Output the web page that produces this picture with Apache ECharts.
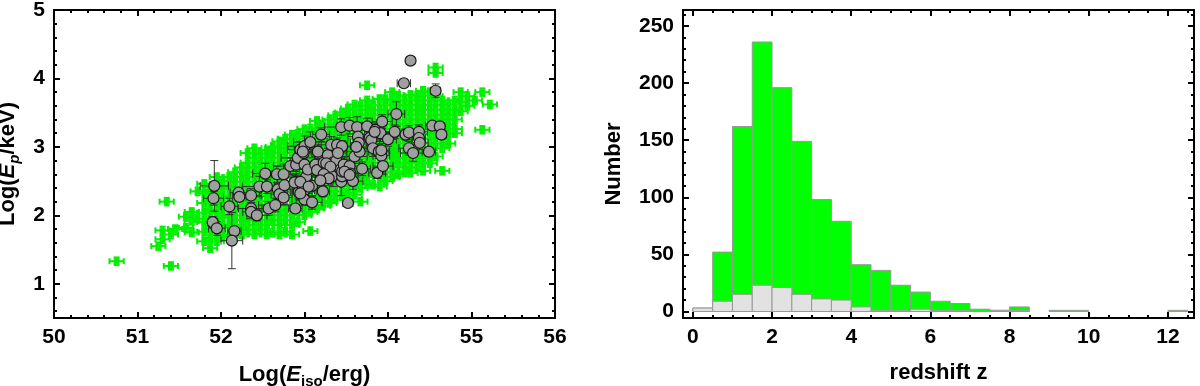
<!DOCTYPE html>
<html>
<head>
<meta charset="utf-8">
<script src="https://cdn.jsdelivr.net/npm/echarts@6/dist/echarts.min.js"></script>
<style>
html, body { margin: 0; padding: 0; background: #fff; }
#main { width: 1200px; height: 386px; }
</style>
</head>
<body>
<div id="main"></div>
<script>
// left panel: Ep - Eiso plane
// green sample, grouped by log Eiso column: [x, [log Ep ...]]
var greenCols = [
  [50.75, [1.33]],
  [51.25, [1.55]],
  [51.3, [1.65, 1.78]],
  [51.35, [2.2]],
  [51.4, [1.26, 1.72]],
  [51.45, [1.8]],
  [51.58, [1.82, 1.98]],
  [51.65, [1.75, 1.92, 2.05]],
  [51.72, [1.95, 2.35]],
  [51.80, [1.62, 1.76, 1.90, 2.04, 2.18, 2.32, 2.46]],
  [51.87, [1.52, 1.66, 1.80, 1.94, 2.08, 2.22, 2.36]],
  [51.95, [1.62, 1.76, 1.90, 2.04, 2.18, 2.32, 2.46, 2.56]],
  [52.02, [1.69, 1.83, 1.97, 2.11, 2.25, 2.39, 2.50]],
  [52.10, [1.72, 1.86, 2.00, 2.14, 2.28, 2.42, 2.56]],
  [52.17, [1.68, 1.79, 1.93, 2.07, 2.21, 2.35, 2.49, 2.63]],
  [52.25, [1.72, 1.86, 2.00, 2.14, 2.28, 2.42, 2.56, 2.70]],
  [52.32, [1.79, 1.93, 2.07, 2.21, 2.35, 2.49, 2.63, 2.77, 2.91]],
  [52.40, [1.72, 1.86, 2.00, 2.14, 2.28, 2.42, 2.56, 2.70, 2.84, 2.98]],
  [52.47, [1.79, 1.93, 2.07, 2.21, 2.35, 2.49, 2.63, 2.77, 2.90]],
  [52.55, [1.72, 1.86, 2.00, 2.14, 2.28, 2.42, 2.56, 2.70, 2.84, 2.95]],
  [52.62, [1.75, 1.93, 2.07, 2.21, 2.35, 2.49, 2.63, 2.77, 2.91, 3.00]],
  [52.70, [1.72, 1.86, 2.00, 2.14, 2.28, 2.42, 2.56, 2.70, 2.84, 2.98, 3.08]],
  [52.77, [1.76, 1.93, 2.07, 2.21, 2.35, 2.49, 2.63, 2.77, 2.91, 3.05, 3.12]],
  [52.85, [1.72, 1.86, 2.00, 2.14, 2.28, 2.42, 2.56, 2.70, 2.84, 2.98, 3.12, 3.18]],
  [52.92, [1.90, 2.07, 2.21, 2.35, 2.49, 2.63, 2.77, 2.91, 3.05, 3.19]],
  [53.00, [2.00, 2.14, 2.28, 2.42, 2.56, 2.70, 2.84, 2.98, 3.12, 3.26]],
  [53.07, [1.77, 2.05, 2.21, 2.35, 2.49, 2.63, 2.77, 2.91, 3.05, 3.19, 3.27]],
  [53.15, [2.10, 2.28, 2.42, 2.56, 2.70, 2.84, 2.98, 3.12, 3.26, 3.38]],
  [53.22, [2.14, 2.21, 2.35, 2.49, 2.63, 2.77, 2.91, 3.05, 3.19, 3.33]],
  [53.30, [2.18, 2.28, 2.42, 2.56, 2.70, 2.84, 2.98, 3.12, 3.26, 3.40]],
  [53.37, [2.23, 2.35, 2.49, 2.63, 2.77, 2.91, 3.05, 3.19, 3.33, 3.46]],
  [53.45, [2.28, 2.42, 2.56, 2.70, 2.84, 2.98, 3.12, 3.26, 3.40, 3.50]],
  [53.52, [2.33, 2.49, 2.63, 2.77, 2.91, 3.05, 3.19, 3.33, 3.47, 3.56]],
  [53.60, [2.30, 2.42, 2.56, 2.70, 2.84, 2.98, 3.12, 3.26, 3.40, 3.54, 3.62]],
  [53.67, [2.20, 2.40, 2.49, 2.63, 2.77, 2.91, 3.05, 3.19, 3.33, 3.47, 3.60]],
  [53.75, [2.46, 2.56, 2.70, 2.84, 2.98, 3.12, 3.26, 3.40, 3.54, 3.68, 3.90]],
  [53.82, [2.45, 2.63, 2.77, 2.91, 3.05, 3.19, 3.33, 3.47, 3.61]],
  [53.90, [2.42, 2.56, 2.70, 2.84, 2.98, 3.12, 3.26, 3.40, 3.54, 3.70]],
  [53.97, [2.50, 2.63, 2.77, 2.91, 3.05, 3.19, 3.33, 3.47, 3.61, 3.70]],
  [54.05, [2.56, 2.70, 2.84, 2.98, 3.12, 3.26, 3.40, 3.54, 3.68, 3.80]],
  [54.12, [2.60, 2.77, 2.91, 3.05, 3.19, 3.33, 3.47, 3.61, 3.75]],
  [54.20, [2.63, 2.70, 2.84, 2.98, 3.12, 3.26, 3.40, 3.54, 3.68]],
  [54.27, [2.62, 2.77, 2.91, 3.05, 3.19, 3.33, 3.47, 3.61, 3.76]],
  [54.35, [2.70, 2.84, 2.98, 3.12, 3.26, 3.40, 3.54, 3.68, 3.75]],
  [54.42, [2.65, 2.77, 2.91, 3.05, 3.19, 3.33, 3.47, 3.61, 3.75, 3.82]],
  [54.50, [2.76, 2.84, 2.98, 3.12, 3.26, 3.40, 3.54, 3.68, 3.80]],
  [54.57, [2.86, 3.05, 3.19, 3.33, 3.47, 3.61, 3.74, 4.08, 4.16]],
  [54.65, [2.65, 2.98, 3.12, 3.26, 3.40, 3.54, 3.68]],
  [54.72, [3.05, 3.19, 3.33, 3.47, 3.62]],
  [54.80, [3.20, 3.26, 3.40, 3.54, 3.68]],
  [54.87, [3.52, 3.66, 3.80]],
  [54.95, [3.60, 3.74]],
  [55.04, [3.68]],
  [55.13, [3.25, 3.80]],
  [55.22, [3.62]]
];
var greenErr = [0.085, 0.055];   // typical error of the green sample (dex)

// gray sample: [log Eiso, log Ep, err Eiso, err Ep]
var grayPts = [
  [51.92,2.43,0.17,0.37],[51.91,2.25,0.12,0.1],[51.90,1.90,0.06,0.08],[51.95,1.81,0.1,0.1],
  [52.10,2.13,0.1,0.12],[52.16,1.77,0.08,0.06],[52.13,1.63,0.13,0.41],[52.21,2.33,0.1,0.08],
  [52.22,2.27,0.08,0.06],[52.36,2.29,0.12,0.1],[52.36,2.10,0.15,0.08],[52.36,2.05,0.1,0.1],
  [52.43,2.00,0.12,0.08],[52.46,2.42,0.2,0.15],[52.53,2.61,0.15,0.15],[52.55,2.42,0.1,0.1],
  [52.57,2.10,0.08,0.1],[52.65,2.15,0.2,0.1],[52.67,2.60,0.12,0.12],[52.68,2.38,0.2,0.15],
  [52.70,2.31,0.1,0.08],[52.75,2.60,0.15,0.15],[52.76,2.44,0.12,0.1],[52.75,2.26,0.1,0.1],
  [52.83,2.72,0.2,0.12],[52.89,2.10,0.08,0.06],[52.89,2.49,0.15,0.12],[52.90,2.74,0.1,0.1],
  [52.92,2.84,0.2,0.15],[52.95,2.96,0.15,0.12],[52.93,2.34,0.1,0.1],[52.98,2.39,0.12,0.12],
  [53.00,3.01,0.2,0.15],[52.99,2.91,0.1,0.1],[53.00,2.74,0.15,0.12],[53.02,2.56,0.25,0.15],
  [53.00,2.37,0.12,0.1],[53.00,2.23,0.1,0.08],[53.04,2.67,0.1,0.1],[53.07,3.07,0.2,0.15],
  [53.09,2.43,0.15,0.15],[53.09,2.19,0.12,0.1],[53.13,2.74,0.15,0.12],[53.15,2.66,0.1,0.1],
  [53.16,2.93,0.12,0.1],[53.20,3.18,0.1,0.1],[53.22,2.35,0.08,0.08],[53.23,2.77,0.2,0.15],
  [53.25,2.62,0.15,0.12],[53.28,2.88,0.12,0.1],[53.29,2.74,0.1,0.1],[53.32,3.03,0.15,0.12],
  [53.34,2.77,0.1,0.08],[53.34,2.57,0.2,0.15],[53.38,2.80,0.1,0.1],[53.39,3.03,0.12,0.1],
  [53.43,2.67,0.15,0.12],[53.44,3.29,0.2,0.12],[53.45,3.01,0.1,0.08],[53.44,2.49,0.12,0.2],
  [53.45,2.57,0.1,0.1],[53.45,2.64,0.15,0.12],[53.47,2.74,0.1,0.1],[53.52,2.18,0.06,0.05],
  [53.54,3.31,0.15,0.12],[53.54,2.72,0.12,0.1],[53.55,2.61,0.1,0.1],[53.58,2.50,0.12,0.12],
  [53.60,2.86,0.15,0.1],[53.63,3.29,0.2,0.15],[53.64,3.15,0.12,0.1],[53.65,3.06,0.1,0.1],
  [53.66,2.93,0.15,0.12],[53.69,2.68,0.1,0.1],[53.75,3.30,0.15,0.12],[53.78,3.13,0.12,0.1],
  [53.80,3.10,0.1,0.08],[53.82,2.98,0.15,0.12],[53.85,3.25,0.1,0.1],[53.87,2.62,0.1,0.08],
  [53.89,2.93,0.12,0.1],[53.91,3.20,0.15,0.12],[53.92,2.87,0.1,0.1],[53.93,3.37,0.12,0.1],
  [53.94,2.72,0.12,0.12],[54.00,3.11,0.1,0.1],[54.08,3.22,0.15,0.1],[54.10,3.48,0.1,0.18],
  [54.19,3.93,0.08,0.06],[54.21,3.18,0.1,0.08],[54.25,3.21,0.12,0.1],[54.25,2.98,0.12,0.1],
  [54.27,4.26,0.05,0.05],[54.30,2.91,0.15,0.12],[54.37,3.22,0.1,0.1],[54.37,3.13,0.08,0.08],
  [54.38,3.06,0.1,0.1],[54.49,2.93,0.08,0.06],[54.53,3.31,0.08,0.06],[54.57,3.82,0.06,0.1],
  [54.62,3.30,0.06,0.06],[54.64,3.18,0.06,0.06],
  [53.40,2.91,0.1,0.1],[53.26,2.76,0.12,0.1],[53.31,2.71,0.1,0.1],[53.23,2.60,0.1,0.1],
  [53.29,2.54,0.12,0.1],[53.19,2.51,0.15,0.12],[53.48,2.64,0.1,0.1],[53.54,2.59,0.1,0.1],
  [53.62,3.00,0.12,0.1],[53.84,3.22,0.12,0.1],[53.92,2.95,0.1,0.1],[52.88,2.48,0.1,0.1],
  [52.95,2.32,0.1,0.1],[52.95,2.49,0.12,0.1],[53.05,2.42,0.1,0.1],[52.98,2.93,0.1,0.1]
];

// right panel: redshift histogram, bin width 0.5
var zBins = [0, 0.5, 1, 1.5, 2, 2.5, 3, 3.5, 4, 4.5, 5, 5.5, 6, 6.5, 7, 7.5, 8, 8.5, 9, 9.5, 10, 10.5, 11, 11.5, 12];
var binWidth = 0.5;
var allCounts  = [3, 52, 162, 236, 196, 149, 98, 79, 41, 36, 23, 17, 9, 7, 2, 1, 4, 0, 1, 1, 0, 0, 0, 0, 1];
var grayCounts = [3, 9, 15, 23, 21, 15, 11, 10, 4, 1, 1, 2, 1, 1, 0, 1, 1, 0, 0, 0, 0, 0, 0, 0, 0];

// tick labels
var eisoTicks = [50, 51, 52, 53, 54, 55, 56];
var epTicks = [1, 2, 3, 4, 5];
var zTicks = [0, 2, 4, 6, 8, 10, 12];
var numTicks = [0, 50, 100, 150, 200, 250];

var FONT = '"Liberation Sans", Arial, Helvetica, sans-serif';

function minors(majors, step, min, max) {
  var out = [];
  var start = majors[0] - Math.floor((majors[0] - min) / step) * step;
  for (var v = start; v <= max + 1e-9; v += step) {
    var r = Math.round(v * 1000) / 1000;
    if (majors.indexOf(r) < 0) out.push(r);
  }
  return out;
}

function axis(gridIndex, position, min, max, ticks, len, line, extra) {
  var a = {
    type: 'value', gridIndex: gridIndex, position: position, min: min, max: max,
    axisLine: { show: line, onZero: false, lineStyle: { color: '#000', width: 2 } },
    axisTick: { show: true, inside: true, length: len, customValues: ticks, lineStyle: { color: '#000', width: 2 } },
    axisLabel: { show: false },
    splitLine: { show: false }
  };
  return Object.assign(a, extra || {});
}

function labelCfg(ticks) {
  return { show: true, customValues: ticks, color: '#000', fontSize: 21, fontWeight: 'bold', fontFamily: FONT, margin: 9 };
}

var nameRich = {
  n: { fontSize: 22, fontWeight: 'bold', fontFamily: FONT, color: '#000', lineHeight: 28 },
  i: { fontSize: 22, fontWeight: 'bold', fontStyle: 'italic', fontFamily: FONT, color: '#000', lineHeight: 28 },
  s: { fontSize: 15, fontWeight: 'bold', fontFamily: FONT, color: '#000', lineHeight: 15, verticalAlign: 'bottom' },
  si: { fontSize: 15, fontWeight: 'bold', fontStyle: 'italic', fontFamily: FONT, color: '#000', lineHeight: 15, verticalAlign: 'bottom' }
};
var nameStyle = { fontSize: 22, fontWeight: 'bold', fontFamily: FONT, color: '#000' };

var L = { xmin: 50, xmax: 56, ymin: 0.5, ymax: 5 };
var R = { xmin: -0.25, xmax: 12.66, ymin: -5.7, ymax: 264 };

var xAxes = [
  axis(0, 'bottom', L.xmin, L.xmax, eisoTicks, 6, true, {
    axisLabel: labelCfg(eisoTicks),
    name: '{n|Log(}{i|E}{s|iso}{n|/erg)}', nameLocation: 'middle', nameGap: 43,
    nameTextStyle: { rich: nameRich }
  }),
  axis(0, 'bottom', L.xmin, L.xmax, minors(eisoTicks, 0.2, L.xmin, L.xmax), 3, false),
  axis(0, 'top', L.xmin, L.xmax, eisoTicks, 6, true),
  axis(0, 'top', L.xmin, L.xmax, minors(eisoTicks, 0.2, L.xmin, L.xmax), 3, false),
  axis(1, 'bottom', R.xmin, R.xmax, zTicks, 6, true, {
    axisLabel: labelCfg(zTicks),
    name: 'redshift z', nameLocation: 'middle', nameGap: 44,
    nameTextStyle: nameStyle
  }),
  axis(1, 'bottom', R.xmin, R.xmax, minors(zTicks, 0.5, R.xmin, R.xmax), 3, false),
  axis(1, 'top', R.xmin, R.xmax, zTicks, 6, true),
  axis(1, 'top', R.xmin, R.xmax, minors(zTicks, 0.5, R.xmin, R.xmax), 3, false)
];

var yAxes = [
  axis(0, 'left', L.ymin, L.ymax, epTicks, 6, true, {
    axisLabel: labelCfg(epTicks),
    name: '{n|Log(}{i|E}{si|p}{n|/keV)}', nameLocation: 'middle', nameGap: 32, nameRotate: 90,
    nameTextStyle: { rich: nameRich }
  }),
  axis(0, 'left', L.ymin, L.ymax, minors(epTicks, 0.2, L.ymin, L.ymax), 3, false),
  axis(0, 'right', L.ymin, L.ymax, epTicks, 6, true),
  axis(0, 'right', L.ymin, L.ymax, minors(epTicks, 0.2, L.ymin, L.ymax), 3, false),
  axis(1, 'left', R.ymin, R.ymax, numTicks, 6, true, {
    axisLabel: labelCfg(numTicks),
    name: 'Number', nameLocation: 'middle', nameGap: 58, nameRotate: 90,
    nameTextStyle: nameStyle
  }),
  axis(1, 'left', R.ymin, R.ymax, minors(numTicks, 10, R.ymin, R.ymax), 3, false),
  axis(1, 'right', R.ymin, R.ymax, numTicks, 6, true),
  axis(1, 'right', R.ymin, R.ymax, minors(numTicks, 10, R.ymin, R.ymax), 3, false)
];

var greenData = [];
greenCols.forEach(function (col) {
  col[1].forEach(function (y) { greenData.push([col[0], y, greenErr[0], greenErr[1]]); });
});

function errorBars(color, cap, width, square) {
  return function (params, api) {
    var x = api.value(0), y = api.value(1), ex = api.value(2), ey = api.value(3);
    var c = api.coord([x, y]);
    var l = api.coord([x - ex, y]), r = api.coord([x + ex, y]);
    var t = api.coord([x, y + ey]), b = api.coord([x, y - ey]);
    var ls = { stroke: color, lineWidth: width };
    var kids = [
      { type: 'line', shape: { x1: l[0], y1: c[1], x2: r[0], y2: c[1] }, style: ls },
      { type: 'line', shape: { x1: l[0], y1: c[1] - cap, x2: l[0], y2: c[1] + cap }, style: ls },
      { type: 'line', shape: { x1: r[0], y1: c[1] - cap, x2: r[0], y2: c[1] + cap }, style: ls },
      { type: 'line', shape: { x1: c[0], y1: t[1], x2: c[0], y2: b[1] }, style: ls },
      { type: 'line', shape: { x1: c[0] - cap, y1: t[1], x2: c[0] + cap, y2: t[1] }, style: ls },
      { type: 'line', shape: { x1: c[0] - cap, y1: b[1], x2: c[0] + cap, y2: b[1] }, style: ls }
    ];
    if (square) {
      kids.push({ type: 'rect', shape: { x: c[0] - square / 2, y: c[1] - square / 2, width: square, height: square }, style: { fill: color } });
    }
    return { type: 'group', children: kids };
  };
}

function histBars(fill) {
  return function (params, api) {
    var x0 = api.value(0), v = api.value(1);
    if (!(v > 0)) return null;
    var p0 = api.coord([x0, v]);
    var p1 = api.coord([x0 + binWidth, 0]);
    return {
      type: 'rect',
      shape: { x: p0[0], y: p0[1], width: p1[0] - p0[0], height: p1[1] - p0[1] },
      style: { fill: fill, stroke: '#999', lineWidth: 1 }
    };
  };
}

var chart = echarts.init(document.getElementById('main'));
chart.setOption({
  animation: false,
  grid: [
    { left: 54, top: 10, width: 501, height: 308, containLabel: false, outerBoundsMode: 'none' },
    { left: 683, top: 10, width: 511, height: 308, containLabel: false, outerBoundsMode: 'none' }
  ],
  xAxis: xAxes,
  yAxis: yAxes,
  series: [
    {
      type: 'custom', xAxisIndex: 0, yAxisIndex: 0,
      renderItem: errorBars('#00f000', 3, 2, 6),
      data: greenData, z: 1
    },
    {
      type: 'custom', xAxisIndex: 0, yAxisIndex: 0,
      renderItem: errorBars('#333', 4, 1, 0),
      data: grayPts, z: 2
    },
    {
      type: 'scatter', xAxisIndex: 0, yAxisIndex: 0,
      symbol: 'circle', symbolSize: 11,
      itemStyle: { color: '#a0a0a0', borderColor: '#1a1a1a', borderWidth: 1.2, opacity: 1 },
      data: grayPts.map(function (p) { return [p[0], p[1]]; }), z: 3
    },
    {
      type: 'custom', xAxisIndex: 4, yAxisIndex: 4,
      renderItem: histBars('#00ff00'),
      data: zBins.map(function (z, i) { return [z, allCounts[i]]; }), z: 1
    },
    {
      type: 'custom', xAxisIndex: 4, yAxisIndex: 4,
      renderItem: histBars('#e2e2e2'),
      data: zBins.map(function (z, i) { return [z, grayCounts[i]]; }), z: 2
    }
  ]
});
</script>
</body>
</html>
